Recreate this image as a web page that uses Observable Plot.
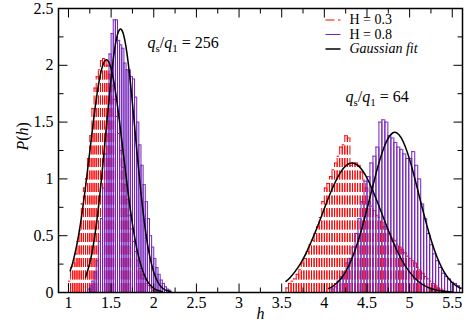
<!DOCTYPE html>
<html><head><meta charset="utf-8">
<script src="https://cdn.jsdelivr.net/npm/d3@7"></script>
<script src="https://cdn.jsdelivr.net/npm/@observablehq/plot@0.6"></script>
<style>body{margin:0;background:#fff}</style>
</head><body><div id="chart"></div>
<script>
// ---------- data ----------
// histograms: first bin left edge, bin width, bar heights P(h)
const redLeftStart = 1.0, redLeftWidth = 0.025;
const redLeft = [0.10,0.22,0.26,0.34,0.45,0.55,0.78,0.92,1.00,1.18,1.38,1.62,1.80,1.90,1.96,2.04,2.06,2.04,2.00,1.92,1.82,1.70,1.55,1.40,1.25,1.10,0.95,0.82,0.68,0.56,0.45,0.36,0.28,0.21,0.16,0.12,0.08,0.06,0.04,0.02,0.015,0.01];
const purpleLeftStart = 1.225, purpleLeftWidth = 0.025;
const purpleLeft = [0.03,0.06,0.10,0.18,0.28,0.45,0.65,0.92,1.22,1.55,2.10,2.28,2.40,2.40,2.22,2.18,2.15,2.02,1.96,1.96,1.90,1.88,1.72,1.50,1.30,1.12,0.95,0.80,0.65,0.50,0.40,0.30,0.22,0.16,0.11,0.08,0.05,0.03,0.02];
const redRightStart = 3.55, redRightWidth = 0.03;
const redRight = [0.04,0.08,0.10,0.12,0.16,0.20,0.26,0.30,0.36,0.42,0.46,0.52,0.58,0.66,0.80,0.92,0.96,1.02,1.08,1.14,1.20,1.28,1.30,1.38,1.36,1.12,1.14,1.14,1.12,1.06,0.99,0.92,0.80,0.76,0.72,0.68,0.66,0.62,0.58,0.56,0.52,0.48,0.46,0.42,0.40,0.38,0.35,0.32,0.30,0.28,0.26,0.22,0.20,0.17,0.14,0.12,0.10,0.08,0.06,0.04,0.03,0.02];
const purpleRightStart = 4.08, purpleRightWidth = 0.035;
const purpleRight = [0.03,0.05,0.10,0.14,0.18,0.26,0.30,0.40,0.52,0.65,0.80,0.98,1.02,1.14,1.20,1.28,1.50,1.52,1.50,1.38,1.36,1.32,1.28,1.26,1.22,1.18,1.18,1.24,1.12,1.00,0.78,0.65,0.52,0.42,0.34,0.28,0.22,0.17,0.14,0.12,0.09,0.08,0.06,0.04];

// Gaussian fit curves
const fitRedLeftX = [1.02,1.05,1.10,1.15,1.20,1.25,1.30,1.35,1.40,1.45,1.50,1.55,1.60,1.65,1.70,1.75,1.80,1.85,1.90,1.95,2.00,2.05,2.10];
const fitRedLeftY = [0.191,0.263,0.428,0.653,0.931,1.243,1.555,1.820,1.996,2.049,1.970,1.773,1.495,1.180,0.872,0.603,0.391,0.237,0.135,0.072,0.036,0.017,0.007];
const fitPurpleLeftX = [1.20,1.25,1.30,1.35,1.40,1.45,1.50,1.55,1.60,1.65,1.70,1.75,1.80,1.85,1.90,1.95,2.00,2.05,2.10,2.15,2.20];
const fitPurpleLeftY = [0.135,0.260,0.457,0.740,1.101,1.505,1.890,2.183,2.316,2.258,2.023,1.666,1.260,0.877,0.560,0.329,0.178,0.088,0.040,0.017,0.006];
const fitRedRightX = [3.55,3.60,3.70,3.80,3.90,4.00,4.10,4.20,4.30,4.40,4.50,4.60,4.70,4.80,4.90,5.00,5.10,5.20,5.30,5.40,5.50];
const fitRedRightY = [0.098,0.133,0.230,0.369,0.543,0.739,0.926,1.068,1.137,1.115,1.008,0.839,0.644,0.456,0.297,0.179,0.099,0.050,0.024,0.010,0.004];
const fitPurpleRightX = [4.05,4.10,4.20,4.30,4.40,4.50,4.60,4.70,4.80,4.90,5.00,5.10,5.20,5.30,5.40,5.50,5.60];
const fitPurpleRightY = [0.035,0.055,0.126,0.257,0.462,0.733,1.030,1.278,1.404,1.363,1.170,0.888,0.596,0.354,0.186,0.086,0.035];

// axes
const xDomain = [0.883, 5.62];
const yDomain = [0, 2.5];
const xMajor = [1,1.5,2,2.5,3,3.5,4,4.5,5,5.5];
const xMinor = [1.25,1.75,2.25,2.75,3.25,3.75,4.25,4.75,5.25];
const yMajor = [0,0.5,1,1.5,2,2.5];
const yMinor = [0.25,0.75,1.25,1.75,2.25];
const xTickLabels = ["1","1.5","2","2.5","3","3.5","4","4.5","5","5.5"];
const yTickLabels = ["0","0.5","1","1.5","2","2.5"];

// text
const legendLabels = ["H = 0.3", "H = 0.8", "Gaussian fit"];
const annotations = [{ratio: "256", x: 1.926, y: 2.2}, {ratio: "64", x: 4.247, y: 1.72}];

// ---------- styles ----------
const RED = "#ff0000", PURPLE = "#7221bc", BLACK = "#000000";
const SERIF = "Liberation Serif, Times New Roman, serif";
const DASH = "9,3.5";

function histo(start, width, heights) {
  return heights.map((h, i) => ({x1: start + i * width, x2: start + (i + 1) * width, h}));
}
function edges(bins) {
  return bins.flatMap(b => [{x: b.x1, h: b.h}, {x: b.x2, h: b.h}]);
}
function zip(xs, ys) { return xs.map((x, i) => ({x, y: ys[i]})); }

const redBins = [...histo(redLeftStart, redLeftWidth, redLeft), ...histo(redRightStart, redRightWidth, redRight)];
const purpleBins = [...histo(purpleLeftStart, purpleLeftWidth, purpleLeft), ...histo(purpleRightStart, purpleRightWidth, purpleRight)];

const lineShape = {draw(context, l) { context.moveTo(0, 0); context.lineTo(0, -l); }};
function ticks(values, anchor, rotate, len) {
  const opt = {frameAnchor: anchor, rotate, length: len, anchor: "start", shape: lineShape,
    stroke: BLACK, strokeWidth: 1, strokeLinecap: "butt"};
  if (anchor === "top" || anchor === "bottom") opt.x = d => d; else opt.y = d => d;
  return Plot.vector(values, opt);
}

const rowY = [19.5, 34, 48.5]; // legend rows (px from top of svg)
const mTop = 8;
const legendMarks = [];
const legendStyles = [
  {stroke: RED, strokeDasharray: DASH},
  {stroke: PURPLE},
  {stroke: BLACK, strokeWidth: 1.5}
];
legendLabels.forEach((lab, i) => {
  legendMarks.push(Plot.vector([0], {frameAnchor: "top-right", dx: -137, dy: rowY[i] - mTop, rotate: 90,
    length: 15, anchor: "start", shape: lineShape, strokeWidth: 1, strokeLinecap: "butt", ...legendStyles[i]}));
  legendMarks.push(Plot.text([lab], {frameAnchor: "top-right", dx: -113, dy: rowY[i] - mTop, text: d => d,
    textAnchor: "start", lineAnchor: "middle", fontSize: 14, fontFamily: SERIF,
    fontStyle: i === 2 ? "italic" : "normal", fill: BLACK}));
});

const svg = Plot.plot({
  width: 466, height: 329,
  marginTop: mTop, marginBottom: 37, marginLeft: 58, marginRight: 4,
  x: {domain: xDomain, axis: null},
  y: {domain: yDomain, axis: null},
  style: {background: "white", fontFamily: SERIF},
  marks: [
    // red histogram (dashed outlines)
    Plot.ruleX(edges(redBins), {x: "x", y1: () => 0, y2: "h", stroke: RED, strokeWidth: 1, strokeDasharray: DASH, clip: true}),
    Plot.ruleY(redBins, {y: "h", x1: "x1", x2: "x2", stroke: RED, strokeWidth: 1, strokeDasharray: DASH, clip: true}),
    // purple histogram
    Plot.ruleX(edges(purpleBins), {x: "x", y1: () => 0, y2: "h", stroke: PURPLE, strokeWidth: 1, clip: true}),
    Plot.ruleY(purpleBins, {y: "h", x1: "x1", x2: "x2", stroke: PURPLE, strokeWidth: 1, clip: true}),
    // gaussian fits
    Plot.line(zip(fitRedLeftX, fitRedLeftY), {x: "x", y: "y", stroke: BLACK, strokeWidth: 1.5, curve: "natural", clip: true}),
    Plot.line(zip(fitPurpleLeftX, fitPurpleLeftY), {x: "x", y: "y", stroke: BLACK, strokeWidth: 1.5, curve: "natural", clip: true}),
    Plot.line(zip(fitRedRightX, fitRedRightY), {x: "x", y: "y", stroke: BLACK, strokeWidth: 1.5, curve: "natural", clip: true}),
    Plot.line(zip(fitPurpleRightX, fitPurpleRightY), {x: "x", y: "y", stroke: BLACK, strokeWidth: 1.5, curve: "natural", clip: true}),
    // frame and ticks
    Plot.frame({stroke: BLACK, strokeWidth: 1.5}),
    ticks(xMajor, "bottom", 0, 9), ticks(xMinor, "bottom", 0, 5),
    ticks(xMajor, "top", 180, 9), ticks(xMinor, "top", 180, 5),
    ticks(yMajor, "left", 90, 9), ticks(yMinor, "left", 90, 5),
    ticks(yMajor, "right", -90, 9), ticks(yMinor, "right", -90, 5),
    // tick labels
    Plot.text(xMajor, {x: d => d, frameAnchor: "bottom", dy: 10, text: (d, i) => xTickLabels[i], lineAnchor: "middle",
      fontSize: 16, fontFamily: SERIF, fill: BLACK}),
    Plot.text(yMajor, {y: d => d, frameAnchor: "left", dx: -5, text: (d, i) => yTickLabels[i], textAnchor: "end",
      lineAnchor: "middle", fontSize: 16, fontFamily: SERIF, fill: BLACK}),
    // axis labels
    Plot.text(["h"], {frameAnchor: "bottom", dy: 26, text: d => d, fontSize: 16, fontStyle: "italic", fontFamily: SERIF, fill: BLACK}),
    Plot.text(["P(h)"], {frameAnchor: "left", dx: -36, rotate: -90, text: d => d, fontSize: 16, fontFamily: SERIF, fill: BLACK}),
    // annotations
    Plot.text(annotations, {x: "x", y: "y", text: d => "§" + d.ratio, textAnchor: "start", lineAnchor: "middle",
      fontSize: 16, fontFamily: SERIF, fill: BLACK}),
    ...legendMarks
  ]
});

// rich text: subscripts and italics
d3.select(svg).selectAll("text").each(function() {
  const t = this.textContent;
  const sel = d3.select(this);
  if (t.startsWith("§")) {
    const ratio = t.slice(1);
    sel.text(null);
    sel.append("tspan").attr("font-style", "italic").text("q");
    sel.append("tspan").attr("font-size", 11).attr("dy", 4).text("s");
    sel.append("tspan").attr("dy", -4).text("/");
    sel.append("tspan").attr("font-style", "italic").text("q");
    sel.append("tspan").attr("font-size", 11).attr("dy", 4).text("1");
    sel.append("tspan").attr("dy", -4).text(" = " + ratio);
  } else if (t === "P(h)") {
    sel.text(null);
    sel.append("tspan").attr("font-style", "italic").text("P");
    sel.append("tspan").text("(");
    sel.append("tspan").attr("font-style", "italic").text("h");
    sel.append("tspan").text(")");
  }
});
document.getElementById("chart").append(svg);
</script>
</body></html>
